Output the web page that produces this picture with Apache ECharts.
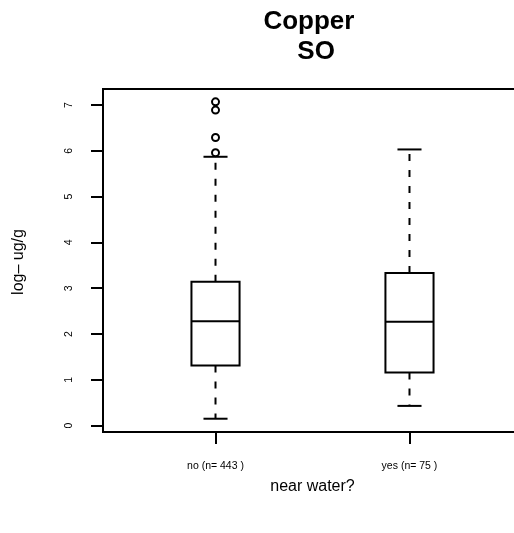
<!DOCTYPE html>
<html>
<head>
<meta charset="utf-8">
<script src="https://cdn.jsdelivr.net/npm/echarts@6/dist/echarts.min.js"></script>
<style>
html,body{margin:0;padding:0;background:#fff;}
#chart{width:514px;height:533px;}
</style>
</head>
<body>
<div id="chart"></div>
<script>
const categories = ['no (n= 443 )', 'yes (n= 75 )'];
const lowerWhisker = [0.15, 0.43];
const q1 = [1.31, 1.16];
const median = [2.28, 2.27];
const q3 = [3.14, 3.33];
const upperWhisker = [5.87, 6.03];
const outliersNo = [5.96, 6.29, 6.89, 7.07];
const outliersYes = [];
const yTicks = [0, 1, 2, 3, 4, 5, 6, 7];
const xPositions = [1, 2];

const FONT = '"Liberation Sans", Arial, sans-serif';

const boxData = categories.map((c, i) => [xPositions[i], lowerWhisker[i], q1[i], median[i], q3[i], upperWhisker[i]]);
const outlierData = [];
outliersNo.forEach(v => outlierData.push([xPositions[0], v]));
outliersYes.forEach(v => outlierData.push([xPositions[1], v]));

function renderItem(params, api) {
  const x = api.value(0);
  const pLo = api.coord([x, api.value(1)]);
  const pQ1 = api.coord([x, api.value(2)]);
  const pMed = api.coord([x, api.value(3)]);
  const pQ3 = api.coord([x, api.value(4)]);
  const pHi = api.coord([x, api.value(5)]);
  const half = api.size([0.124, 0])[0];
  const staple = half / 2;
  const cx = pMed[0];
  const solid = { stroke: '#000', lineWidth: 2, fill: null };
  const dashed = { stroke: '#000', lineWidth: 2, lineDash: [7, 9], fill: null };
  return {
    type: 'group',
    children: [
      { type: 'line', shape: { x1: cx, y1: pQ1[1], x2: cx, y2: pLo[1] }, style: dashed },
      { type: 'line', shape: { x1: cx, y1: pQ3[1], x2: cx, y2: pHi[1] }, style: dashed },
      { type: 'line', shape: { x1: cx - staple, y1: pLo[1], x2: cx + staple, y2: pLo[1] }, style: solid },
      { type: 'line', shape: { x1: cx - staple, y1: pHi[1], x2: cx + staple, y2: pHi[1] }, style: solid },
      { type: 'rect', shape: { x: cx - half, y: pQ3[1], width: 2 * half, height: pQ1[1] - pQ3[1] },
        style: { stroke: '#000', lineWidth: 2, fill: '#fff' } },
      { type: 'line', shape: { x1: cx - half, y1: pMed[1], x2: cx + half, y2: pMed[1] }, style: solid }
    ]
  };
}

const chart = echarts.init(document.getElementById('chart'), null, { renderer: 'canvas' });
chart.setOption({
  backgroundColor: '#fff',
  animation: false,
  grid: {
    left: 103, top: 89, width: 419, height: 343,
    outerBoundsMode: 'none', containLabel: false,
    show: true, borderColor: '#000', borderWidth: 2, backgroundColor: 'transparent'
  },
  graphic: [
    { type: 'text', x: 312.5, y: 22, style: { text: 'Copper ', font: 'bold 26px ' + FONT, fill: '#000', textAlign: 'center', textVerticalAlign: 'middle' } },
    { type: 'text', x: 312.5, y: 52, style: { text: ' SO', font: 'bold 26px ' + FONT, fill: '#000', textAlign: 'center', textVerticalAlign: 'middle' } },
    { type: 'text', x: 19, y: 262, rotation: Math.PI / 2, style: { text: 'log\u2013 ug/g', font: '16px ' + FONT, fill: '#000', textAlign: 'center', textVerticalAlign: 'middle' } },
    { type: 'text', x: 312.5, y: 487, style: { text: 'near water?', font: '16px ' + FONT, fill: '#000', textAlign: 'center', textVerticalAlign: 'middle' } }
  ],
  xAxis: {
    type: 'value', min: 0.42, max: 2.58,
    splitLine: { show: false },
    axisLine: { show: true, onZero: false, lineStyle: { color: '#000', width: 2 } },
    axisTick: { show: true, customValues: xPositions, length: 12, lineStyle: { color: '#000', width: 2 } },
    axisLabel: { customValues: xPositions, formatter: v => categories[Math.round(v) - 1], fontSize: 10.5, fontFamily: FONT, color: '#000', margin: 29 }
  },
  yAxis: {
    type: 'value', min: -0.14, max: 7.35,
    splitLine: { show: false },
    axisLine: { show: true, onZero: false, lineStyle: { color: '#000', width: 2 } },
    axisTick: { show: true, customValues: yTicks, length: 12, lineStyle: { color: '#000', width: 2 } },
    axisLabel: { customValues: yTicks, rotate: 90, fontSize: 10.5, fontFamily: FONT, color: '#000', margin: 28 }
  },
  series: [
    { type: 'custom', renderItem: renderItem, data: boxData, encode: { x: 0, y: [1, 2, 3, 4, 5] }, clip: false, z: 3 },
    { type: 'scatter', data: outlierData, symbol: 'emptyCircle', symbolSize: 7,
      itemStyle: { color: '#000', borderColor: '#000', borderWidth: 1.6, opacity: 1 }, z: 4 }
  ]
});
</script>
</body>
</html>
